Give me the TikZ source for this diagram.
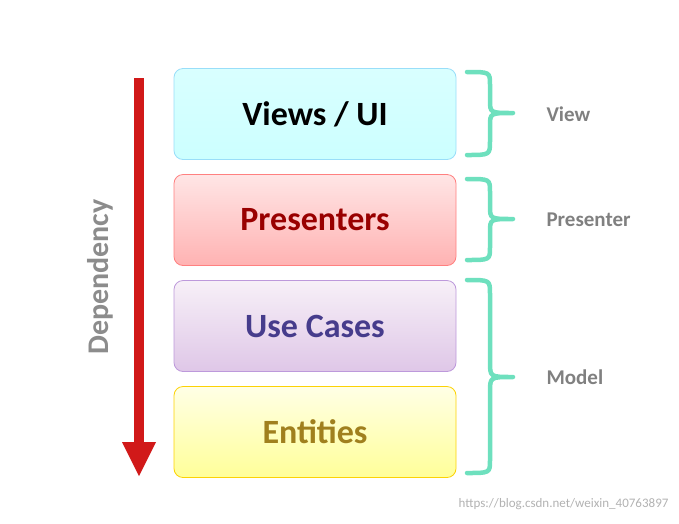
\documentclass[tikz,border=0pt]{standalone}
\usepackage{fontspec}
\setmainfont{Carlito}
\begin{document}
\begin{tikzpicture}[x=1pt,y=-1pt,
  box/.style={draw, rounded corners=9pt, line width=0.8pt, minimum width=282pt, minimum height=91pt, font=\bfseries\fontsize{34}{38}\selectfont},
  brace/.style={line width=4.5pt, line cap=round, line join=round},
  lab/.style={font=\bfseries\fontsize{21}{24}\selectfont, text=black!50, anchor=west}]
\useasboundingbox (0,0) rectangle (679,523);
\definecolor{bc}{RGB}{110,224,190}
\definecolor{uc}{RGB}{70,60,140}
\definecolor{ec}{RGB}{160,128,30}
\node[box, draw=cyan!40, top color=white!85!cyan, bottom color=cyan!20!white] (v) at (315,114) {Views / UI};
\node[box, draw=red!50, top color=red!10!white, bottom color=red!30!white, text=red!60!black] (p) at (315,220) {Presenters};
\node[box, draw=blue!30!violet!40, top color=blue!4!violet!6!white, bottom color=blue!15!violet!22!white, text=uc] (u) at (315,326) {Use Cases};
\node[box, draw=yellow!70!orange, top color=yellow!10!white, bottom color=yellow!40!white, text=ec] (e) at (315,432) {Entities};
\fill[red!80!black!90] (134,78) rectangle (144,442);
\fill[red!80!black!90] (122,442) -- (139,476) -- (156,442) -- cycle;
\node[rotate=90, font=\bfseries\fontsize{30}{34}\selectfont, text=black!45] (d) at (100,277) {Dependency};
\begin{scope}[brace, draw=bc]
\draw (467,72) .. controls (490,72) .. (490,85) -- (490,100) .. controls (490,113) .. (513,113) .. controls (490,113) .. (490,126) -- (490,141) .. controls (490,155) .. (467,155);
\draw (467,179) .. controls (490,179) .. (490,192) -- (490,206) .. controls (490,219) .. (513,219) .. controls (490,219) .. (490,232) -- (490,247) .. controls (490,260) .. (467,260);
\draw (467,280) .. controls (490,280) .. (490,294) -- (490,362) .. controls (490,377) .. (513,377) .. controls (490,377) .. (490,392) -- (490,460) .. controls (490,473) .. (467,473);
\end{scope}
\node[lab] (lv) at (543,114) {View};
\node[lab] (lp) at (543,220) {Presenter};
\node[lab] (lm) at (543,377) {Model};
\node[font=\fontsize{13}{15}\selectfont, text=black!30, anchor=east] (w) at (672,504) {https://blog.csdn.net/weixin\_40763897};
\end{tikzpicture}
\end{document}
